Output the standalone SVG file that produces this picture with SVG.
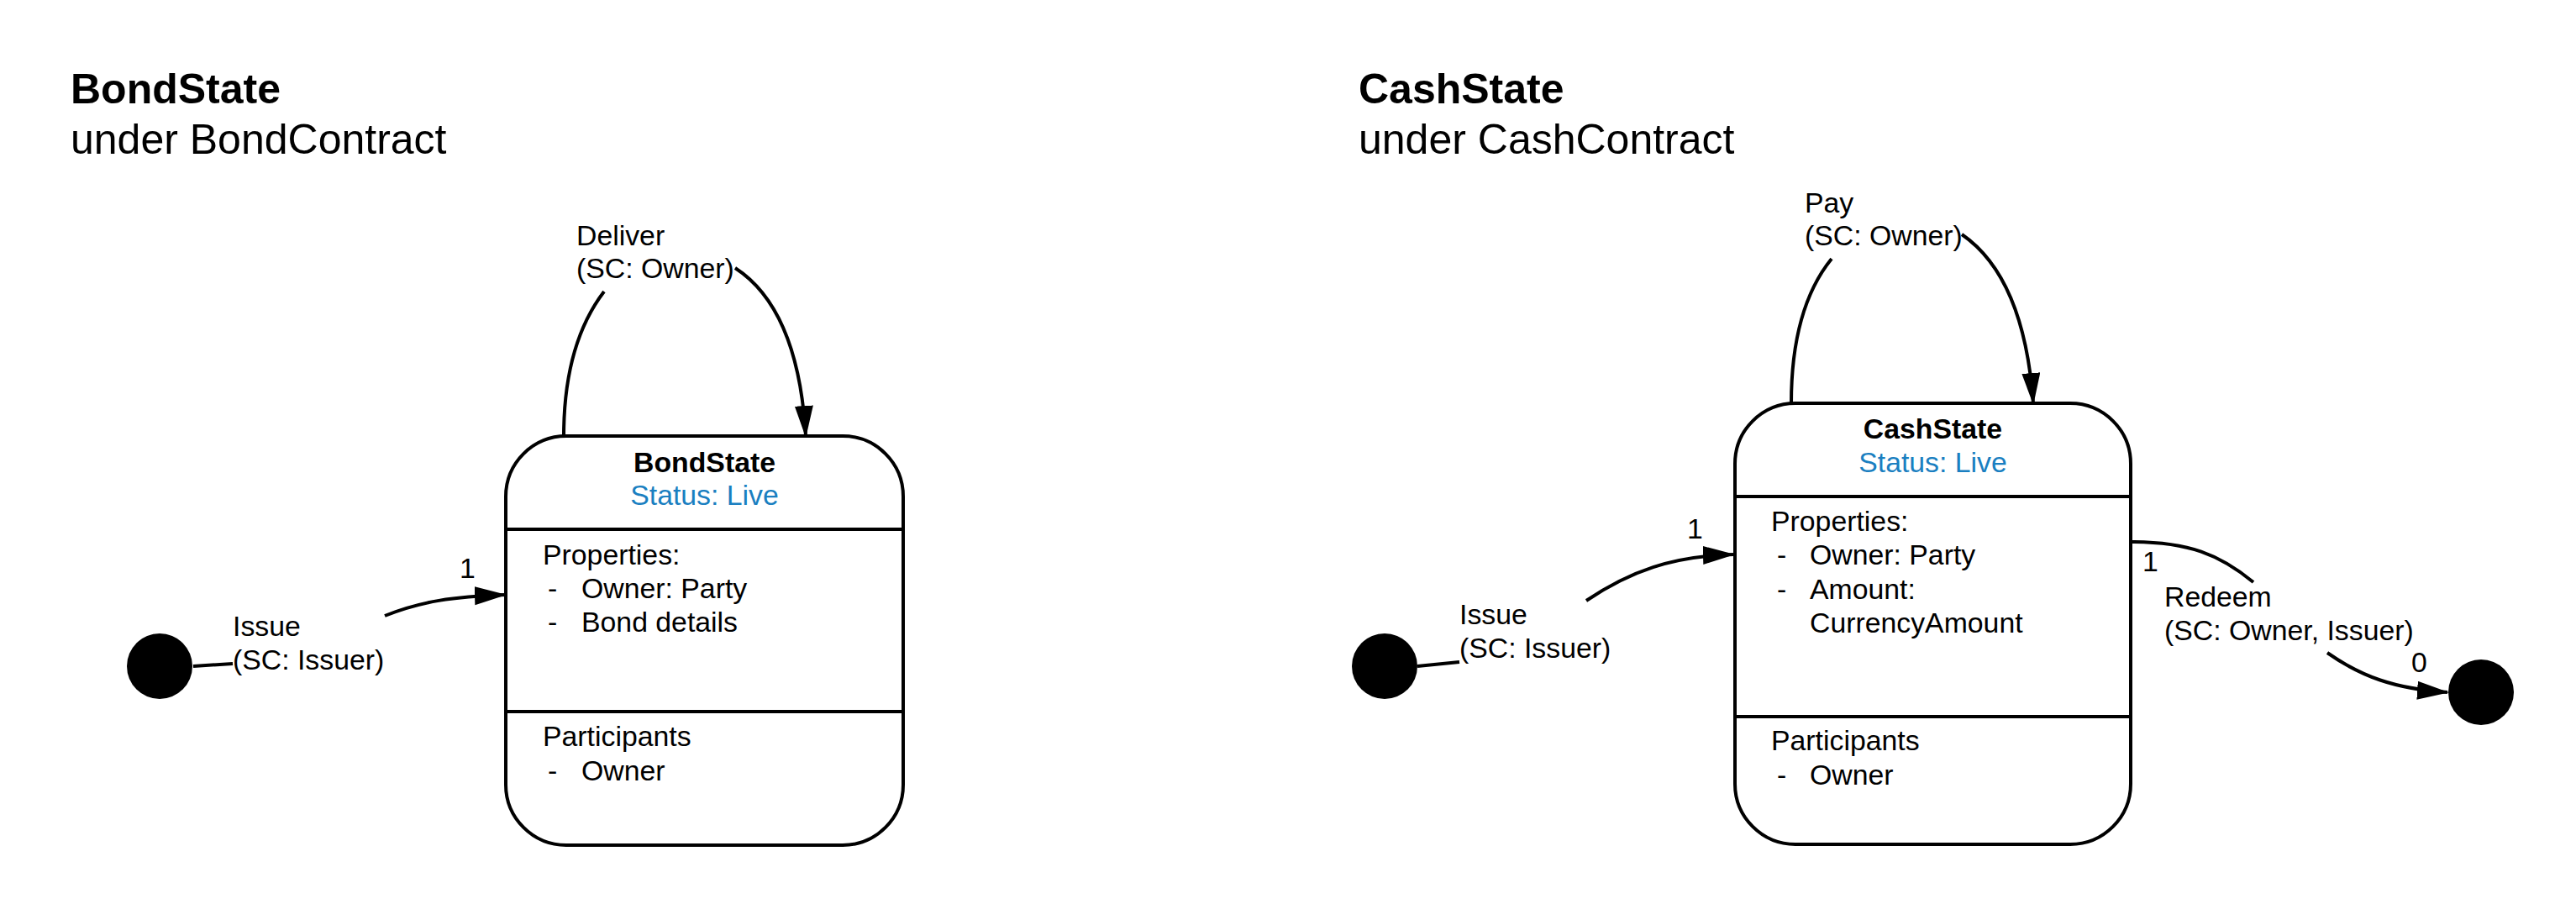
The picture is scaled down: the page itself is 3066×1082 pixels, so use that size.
<svg xmlns="http://www.w3.org/2000/svg" width="3066" height="1082" viewBox="0 0 3066 1082">
<style>
text{font-family:"Liberation Sans",Arial,sans-serif;fill:#000}
.h{font-size:50px}
.b{font-weight:bold}
.t{font-size:33.8px}
.st{fill:#1a7fc1}
.box{fill:#fff;stroke:#000;stroke-width:4}
.div{stroke:#000;stroke-width:4}
.c{fill:none;stroke:#000;stroke-width:4}
</style>
<defs>
<marker id="arr" markerUnits="userSpaceOnUse" markerWidth="40" markerHeight="24" viewBox="0 0 40 24" refX="36" refY="11" orient="auto">
<path d="M0,0 L38,11 L0,22 z" fill="#000"/>
</marker>
</defs>
<rect width="3066" height="1082" fill="#fff"/>
<g id="title-bond">
<text class="h b" x="84" y="123">BondState</text>
<text class="h" x="84" y="183">under BondContract</text>
</g>
<g id="title-cash">
<text class="h b" x="1617" y="123">CashState</text>
<text class="h" x="1617" y="183">under CashContract</text>
</g>
<g id="connectors">
<path class="c" d="M230 793 L277 790"/>
<path class="c" d="M458 733 C500 716 540 710 601 708" marker-end="url(#arr)"/>
<path class="c" d="M671 519 C671 440 690 385 719 347"/>
<path class="c" d="M875 319 C915 345 952 400 959 519" marker-end="url(#arr)"/>
<path class="c" d="M1687 793 L1737 788"/>
<path class="c" d="M1888 715 C1940 680 1990 662 2063 660" marker-end="url(#arr)"/>
<path class="c" d="M2132 480 C2132 400 2150 345 2180 308"/>
<path class="c" d="M2335 279 C2380 310 2412 370 2420 480" marker-end="url(#arr)"/>
<path class="c" d="M2536 645 C2605 645 2642 660 2682 693"/>
<path class="c" d="M2770 777 C2810 805 2850 820 2913 824" marker-end="url(#arr)"/>
<text class="t" x="277" y="757">Issue</text>
<text class="t" x="277" y="797">(SC: Issuer)</text>
<text class="t" x="547" y="688">1</text>
<text class="t" x="686" y="292">Deliver</text>
<text class="t" x="686" y="331">(SC: Owner)</text>
<text class="t" x="1737" y="743">Issue</text>
<text class="t" x="1737" y="783">(SC: Issuer)</text>
<text class="t" x="2008" y="641">1</text>
<text class="t" x="2148" y="253">Pay</text>
<text class="t" x="2148" y="292">(SC: Owner)</text>
<text class="t" x="2550" y="680">1</text>
<text class="t" x="2576" y="722">Redeem</text>
<text class="t" x="2576" y="762">(SC: Owner, Issuer)</text>
<text class="t" x="2870" y="800">0</text>
</g>
<g id="bond-initial">
<circle cx="190" cy="793" r="39" fill="#000"/>
</g>
<g id="cash-initial">
<circle cx="1648" cy="793" r="39" fill="#000"/>
</g>
<g id="cash-final">
<circle cx="2953" cy="824" r="39" fill="#000"/>
</g>
<g id="bond-state">
<rect class="box" x="602" y="519" width="473" height="487" rx="72" ry="72"/>
<line class="div" x1="602" y1="630" x2="1075" y2="630"/>
<line class="div" x1="602" y1="847" x2="1075" y2="847"/>
<text class="t b" x="838.5" y="562" text-anchor="middle">BondState</text>
<text class="t st" x="838.5" y="601" text-anchor="middle">Status: Live</text>
<text class="t" x="646" y="672">Properties:</text>
<text class="t" x="652" y="712">-</text>
<text class="t" x="692" y="712">Owner: Party</text>
<text class="t" x="652" y="752">-</text>
<text class="t" x="692" y="752">Bond details</text>
<text class="t" x="646" y="888">Participants</text>
<text class="t" x="652" y="929">-</text>
<text class="t" x="692" y="929">Owner</text>
</g>
<g id="cash-state">
<rect class="box" x="2065" y="480" width="471" height="525" rx="72" ry="72"/>
<line class="div" x1="2065" y1="591" x2="2536" y2="591"/>
<line class="div" x1="2065" y1="853" x2="2536" y2="853"/>
<text class="t b" x="2300.5" y="522" text-anchor="middle">CashState</text>
<text class="t st" x="2300.5" y="562" text-anchor="middle">Status: Live</text>
<text class="t" x="2108" y="632">Properties:</text>
<text class="t" x="2115" y="672">-</text>
<text class="t" x="2154" y="672">Owner: Party</text>
<text class="t" x="2115" y="713">-</text>
<text class="t" x="2154" y="713">Amount:</text>
<text class="t" x="2154" y="753">CurrencyAmount</text>
<text class="t" x="2108" y="893">Participants</text>
<text class="t" x="2115" y="934">-</text>
<text class="t" x="2154" y="934">Owner</text>
</g>
</svg>
